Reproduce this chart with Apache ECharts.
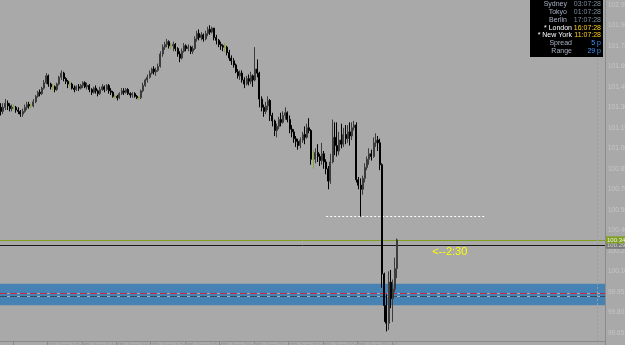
<!DOCTYPE html>
<html>
<head>
<meta charset="utf-8">
<script src="https://cdn.jsdelivr.net/npm/echarts@6/dist/echarts.min.js"></script>
<style>
html,body{margin:0;padding:0;background:#a9a9a9;}
#c{width:625px;height:345px;}
</style>
</head>
<body>
<div id="c"></div>
<script>
// ---- data ----
// candles: [open, close, low, high]
const candles = [
[101.30,101.27,101.24,101.33],[101.27,101.30,101.25,101.33],[101.30,101.33,101.28,101.36],[101.33,101.31,101.28,101.35],
[101.31,101.29,101.27,101.33],[101.29,101.30,101.27,101.32],[101.30,101.30,101.28,101.32],[101.30,101.28,101.26,101.31],
[101.28,101.27,101.25,101.30],[101.27,101.25,101.23,101.28],[101.25,101.27,101.23,101.29],[101.27,101.30,101.26,101.32],
[101.30,101.32,101.28,101.34],[101.32,101.31,101.29,101.34],[101.31,101.31,101.29,101.33],[101.31,101.34,101.30,101.36],
[101.34,101.38,101.33,101.39],[101.38,101.41,101.37,101.42],[101.41,101.40,101.38,101.43],[101.40,101.44,101.39,101.45],
[101.44,101.48,101.43,101.50],[101.48,101.53,101.47,101.55],[101.53,101.47,101.45,101.54],[101.47,101.45,101.43,101.48],
[101.45,101.45,101.42,101.47],[101.45,101.43,101.41,101.46],[101.43,101.47,101.42,101.48],[101.47,101.52,101.46,101.53],
[101.52,101.55,101.50,101.57],[101.55,101.51,101.49,101.56],[101.51,101.49,101.47,101.52],[101.49,101.47,101.44,101.50],
[101.47,101.47,101.45,101.49],[101.47,101.44,101.43,101.48],[101.44,101.43,101.41,101.46],[101.43,101.45,101.42,101.46],
[101.45,101.44,101.42,101.47],[101.44,101.46,101.43,101.47],[101.46,101.48,101.44,101.49],[101.48,101.45,101.44,101.49],
[101.45,101.46,101.43,101.48],[101.46,101.43,101.41,101.47],[101.43,101.41,101.39,101.44],[101.41,101.44,101.40,101.45],
[101.44,101.42,101.40,101.46],[101.42,101.40,101.38,101.43],[101.40,101.43,101.39,101.45],[101.43,101.45,101.42,101.47],
[101.45,101.43,101.41,101.46],[101.43,101.46,101.42,101.47],[101.46,101.42,101.40,101.47],[101.42,101.41,101.39,101.44],
[101.41,101.38,101.37,101.42],[101.38,101.38,101.36,101.40],[101.38,101.37,101.35,101.39],[101.37,101.40,101.36,101.41],
[101.40,101.42,101.39,101.44],[101.42,101.41,101.39,101.44],[101.41,101.43,101.40,101.44],[101.43,101.40,101.39,101.44],
[101.40,101.39,101.37,101.41],[101.39,101.40,101.37,101.41],[101.40,101.38,101.37,101.41],[101.38,101.37,101.36,101.39],
[101.37,101.37,101.35,101.38],[101.37,101.42,101.36,101.43],[101.42,101.46,101.41,101.48],[101.46,101.50,101.45,101.51],
[101.50,101.52,101.48,101.54],[101.52,101.55,101.51,101.57],[101.55,101.58,101.54,101.59],[101.58,101.56,101.54,101.60],
[101.56,101.57,101.53,101.59],[101.57,101.60,101.56,101.62],[101.60,101.69,101.59,101.71],[101.69,101.74,101.67,101.76],
[101.74,101.76,101.72,101.78],[101.76,101.78,101.74,101.80],[101.78,101.75,101.73,101.79],[101.75,101.75,101.72,101.77],
[101.75,101.76,101.71,101.78],[101.76,101.73,101.71,101.77],[101.73,101.69,101.67,101.74],[101.69,101.66,101.63,101.71],
[101.66,101.71,101.65,101.73],[101.71,101.75,101.70,101.77],[101.75,101.73,101.71,101.76],[101.73,101.74,101.71,101.76],
[101.74,101.71,101.69,101.75],[101.71,101.73,101.69,101.75],[101.73,101.80,101.72,101.82],[101.80,101.84,101.78,101.86],
[101.84,101.81,101.79,101.87],[101.81,101.83,101.79,101.85],[101.83,101.80,101.78,101.84],[101.80,101.84,101.79,101.86],
[101.84,101.87,101.82,101.89],[101.87,101.85,101.83,101.90],[101.85,101.88,101.84,101.89],[101.88,101.81,101.79,101.88],
[101.81,101.79,101.76,101.83],[101.79,101.76,101.74,101.80],[101.76,101.75,101.72,101.78],[101.75,101.74,101.71,101.76],
[101.74,101.74,101.70,101.77],[101.74,101.70,101.68,101.75],[101.70,101.66,101.64,101.72],[101.66,101.64,101.61,101.68],
[101.64,101.61,101.59,101.66],[101.61,101.56,101.55,101.62],[101.56,101.53,101.51,101.58],[101.53,101.55,101.50,101.57],
[101.55,101.50,101.48,101.57],[101.50,101.47,101.44,101.52],[101.47,101.51,101.46,101.53],[101.51,101.49,101.46,101.54],
[101.49,101.53,101.47,101.56],[101.53,101.50,101.45,101.54],[101.50,101.58,101.49,101.74],[101.58,101.55,101.52,101.65],
[101.55,101.36,101.30,101.56],[101.36,101.30,101.27,101.38],[101.30,101.27,101.23,101.32],[101.27,101.31,101.25,101.34],
[101.31,101.35,101.28,101.38],[101.35,101.24,101.20,101.36],[101.24,101.20,101.16,101.26],[101.20,101.13,101.09,101.21],
[101.13,101.16,101.08,101.18],[101.16,101.21,101.14,101.23],[101.21,101.19,101.16,101.26],[101.19,101.24,101.18,101.27],
[101.24,101.26,101.21,101.30],[101.26,101.21,101.19,101.27],[101.21,101.14,101.11,101.24],[101.14,101.12,101.08,101.17],
[101.12,101.07,101.04,101.14],[101.07,101.05,101.01,101.09],[101.05,101.02,100.99,101.07],[101.02,101.06,101.00,101.08],
[101.06,101.10,101.04,101.12],[101.10,101.08,101.03,101.16],[101.08,101.15,101.07,101.18],[101.15,101.13,101.11,101.22],
[101.13,100.92,100.88,101.14],[100.92,100.92,100.85,100.99],[100.92,100.97,100.89,101.00],[100.97,100.94,100.90,101.03],
[100.94,100.91,100.87,100.96],[100.91,100.96,100.88,101.04],[100.96,100.90,100.85,100.98],[100.90,100.85,100.81,100.92],
[100.85,100.76,100.70,100.87],[100.76,100.90,100.74,100.96],[100.90,101.08,100.89,101.21],[101.08,101.02,100.95,101.19],
[101.02,100.98,100.94,101.19],[100.98,101.06,100.95,101.12],[101.06,101.03,101.00,101.18],[101.03,101.10,101.01,101.15],
[101.10,101.07,101.03,101.17],[101.07,101.12,101.04,101.17],[101.12,101.09,101.02,101.19],[101.09,101.15,101.06,101.19],
[101.15,101.17,101.13,101.20],[101.17,100.77,100.75,101.19],[100.77,100.73,100.70,100.79],[100.73,100.70,100.50,100.78],
[100.70,100.78,100.66,100.80],[100.78,100.86,100.75,100.89],[100.86,100.92,100.84,100.94],[100.92,100.96,100.88,101.00],
[100.96,100.94,100.91,100.99],[100.94,101.04,100.93,101.08],[101.04,101.06,101.01,101.11],[101.06,101.04,100.98,101.09],
[101.04,100.88,100.84,101.07],[100.88,100.08,99.98,100.89],[100.08,99.85,99.73,100.09],[99.85,99.72,99.66,99.93],
[99.72,100.02,99.67,100.10],[100.02,99.90,99.83,100.11],[99.90,99.97,99.73,100.04],[99.97,100.12,99.95,100.20],
[100.12,100.33,100.05,100.34]
];
const slotCount = 281;                 // bar slots across the chart width (incl. empty future)
const firstTickIndex = 6, tickEvery = 16;
const timeTickLabels = ['23 Jun 2021','23 Jun 13:20','23 Jun 14:40','23 Jun 16:00','23 Jun 17:20','23 Jun 18:40',
  '23 Jun 20:00','23 Jun 21:20','23 Jun 22:40','24 Jun 00:00','24 Jun 01:20','24 Jun 02:40'];
const priceTicks = [102.05,101.90,101.75,101.60,101.45,101.30,101.15,101.00,100.85,100.70,100.55,100.40,100.25,100.10,99.95,99.80,99.65];
const priceMin = 99.59, priceMax = 102.085, priceStep = 0.01;
const bidPrice = 100.335, bidLabel = '100.34';
const hLinePrice = 100.287, hLineLabel = '100.29';
const dottedLevel = 100.50, dottedFrom = 151, dottedTo = 225;
const zoneTop = 100.009, zoneBottom = 99.852;
const zoneRed = 99.939, zoneDark = 99.918;
const noteIndex = 200, notePrice = 100.24, noteText = '<--2:30';
const sepIndex = 277;
const sessions = [
  ['Sydney','03:07:28','#a9b3c4','#7d8da0'],
  ['Tokyo','01:07:28','#a9b3c4','#7d8da0'],
  ['Berlin','17:07:28','#a9b3c4','#7d8da0'],
  ['* London','16:07:28','#ffffff','#ffd21a'],
  ['* New York','11:07:28','#ffffff','#ffd21a'],
  ['Spread','5 p','#a9b3c4','#3f9bff'],
  ['Range','29 p','#a9b3c4','#3f9bff']
];

// ---- chart ----
const cats = Array.from({length: slotCount}, (_, i) => String(i));
const lastIdx = candles.length - 1;
const isTick = i => i <= lastIdx && i >= firstTickIndex && (i - firstTickIndex) % tickEvery === 0;

const chart = echarts.init(document.getElementById('c'), null, {renderer: 'canvas'});
const FONT = 'Liberation Sans, Arial, sans-serif';

const graphics = [{
  type: 'rect', left: 530, top: 0, shape: {width: 73, height: 57}, style: {fill: '#000000'}, z: 100
}];
sessions.forEach((s, k) => {
  const y = 1 + k * 7.7;
  graphics.push({type: 'text', z: 101, style: {text: s[0], x: k < 3 ? 567 : 572, y: y, align: 'right', verticalAlign: 'top', fill: s[2], font: '7px ' + FONT}});
  graphics.push({type: 'text', z: 101, style: {text: s[1], x: 601, y: y, align: 'right', verticalAlign: 'top', fill: s[3], font: '7px ' + FONT}});
});

const option = {
  backgroundColor: '#a9a9a9',
  animation: false,
  grid: {left: 0, right: 20, top: 0, bottom: 4, containLabel: false, outerBoundsMode: 'none'},
  xAxis: {
    type: 'category', data: cats, boundaryGap: true,
    axisLine: {show: true, lineStyle: {color: '#8a8a8a', width: 1}},
    axisTick: {show: true, interval: (i) => isTick(i), length: 4, lineStyle: {color: '#8a8a8a'}},
    axisLabel: {show: true, interval: (i) => isTick(i), formatter: (v, i) => timeTickLabels[(i - firstTickIndex) / tickEvery] || '',
      color: '#979797', fontSize: 7, fontFamily: FONT, margin: 2, align: 'left'},
    splitLine: {show: false}
  },
  yAxis: {
    type: 'value', position: 'right', min: priceMin, max: priceMax, interval: priceStep,
    axisLine: {show: true, lineStyle: {color: '#8a8a8a', width: 1}},
    axisTick: {show: false},
    splitLine: {show: false},
    axisLabel: {
      color: '#c6c6c6', fontSize: 6.5, fontFamily: FONT, margin: 3, hideOverlap: false,
      formatter: (v) => { const m = priceTicks.find(p => Math.abs(p - v) < 1e-6); return m !== undefined ? m.toFixed(2) : ''; }
    }
  },
  graphic: graphics,
  series: [
    {
      type: 'line', data: [], z: 1, silent: true,
      markArea: {silent: true, itemStyle: {color: '#4682b4', opacity: 1}, data: [[{yAxis: zoneTop}, {yAxis: zoneBottom}]]},
      markLine: {
        silent: true, symbol: ['none', 'none'], animation: false,
        data: [
          {yAxis: zoneRed, lineStyle: {color: '#9fb3c8', type: 'solid', width: 1}, label: {show: false}},
          {yAxis: zoneRed, lineStyle: {color: '#c8283c', type: [7, 3], width: 1}, label: {show: false}},
          {yAxis: zoneDark, lineStyle: {color: '#9fb3c8', type: 'solid', width: 1}, label: {show: false}},
          {yAxis: zoneDark, lineStyle: {color: '#2f4f5f', type: [7, 3], width: 1}, label: {show: false}},
          {yAxis: hLinePrice, lineStyle: {color: '#1a1a1a', type: 'solid', width: 1},
            label: {show: true, position: 'end', formatter: hLineLabel, color: '#d0d0d0', backgroundColor: '#7a7a7a', fontSize: 6, fontFamily: FONT, padding: [1, 1, 0, 1], distance: 1}},
          {yAxis: bidPrice, lineStyle: {color: '#7fa020', type: 'solid', width: 1},
            label: {show: true, position: 'end', formatter: bidLabel, color: '#f0f0f0', backgroundColor: '#7fa020', fontSize: 6, fontFamily: FONT, padding: [1, 1, 0, 1], distance: 1}},
          [{coord: [dottedFrom, dottedLevel], lineStyle: {color: '#ffffff', type: [2, 2], width: 1}, label: {show: false}},
           {coord: [dottedTo, dottedLevel]}],
          {xAxis: String(sepIndex), lineStyle: {color: '#9b9b9b', type: [2, 2], width: 1}, label: {show: false}}
        ]
      }
    },
    {
      type: 'candlestick', z: 5, data: candles, barWidth: 1.5,
      itemStyle: {
        color: '#606060', color0: '#000000',
        borderColor: '#3c3c3c', borderColor0: '#000000', borderColorDoji: '#86a83a', borderWidth: 1
      },
      markPoint: {
        silent: true, symbol: 'rect', symbolSize: [1, 1], itemStyle: {color: 'rgba(0,0,0,0)'},
        data: [{coord: [noteIndex, notePrice], value: noteText}],
        label: {show: true, position: 'right', distance: 0, formatter: noteText, color: '#ffff00', fontSize: 11, fontFamily: FONT}
      }
    }
  ]
};
chart.setOption(option);
</script>
</body>
</html>
